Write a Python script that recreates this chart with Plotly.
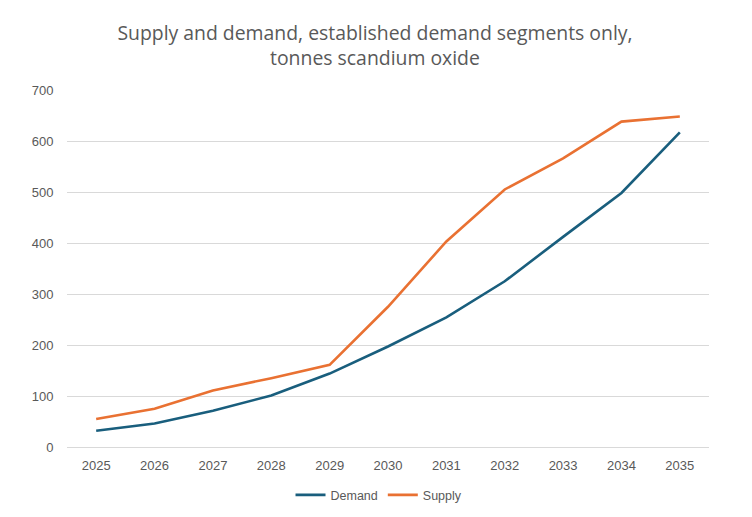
"""
Supply and demand chart, established demand segments only (tonnes Sc2O3).
"""

import plotly.graph_objects as go

# Data
YEARS = ["2025", "2026", "2027", "2028", "2029", "2030",
         "2031", "2032", "2033", "2034", "2035"]
DEMAND = [32, 46, 71, 101, 144, 197, 254, 325, 412, 498, 617]
SUPPLY = [55, 75, 111, 135, 161, 275, 403, 505, 566, 638, 648]

DEMAND_COLOR = "#195E7D"
SUPPLY_COLOR = "#E97132"
TEXT_COLOR = "#595959"
GRID_COLOR = "#D9D9D9"

fig = go.Figure()

fig.add_trace(
    go.Scatter(
        x=YEARS,
        y=DEMAND,
        name="Demand",
        mode="lines",
        line={"color": DEMAND_COLOR, "width": 2.6},
    )
)
fig.add_trace(
    go.Scatter(
        x=YEARS,
        y=SUPPLY,
        name="Supply",
        mode="lines",
        line={"color": SUPPLY_COLOR, "width": 2.6},
    )
)

fig.update_layout(
    width=752,
    height=517,
    title={
        "text": "Supply and demand, established demand segments only,<br>tonnes scandium oxide",
        "x": 0.488,
        "xanchor": "center",
        "y": 0.939,
        "yanchor": "top",
        "font": {"family": "Open Sans, sans-serif", "size": 19.4, "color": TEXT_COLOR},
    },
    plot_bgcolor="white",
    paper_bgcolor="white",
    font={"family": "Liberation Sans, Arial, sans-serif", "size": 13, "color": TEXT_COLOR},
    margin={"t": 82, "b": 78, "l": 59, "r": 51},
    showlegend=True,
    legend={
        "orientation": "h",
        "x": 0.486,
        "xanchor": "center",
        "y": -0.093,
        "yanchor": "top",
        "font": {"family": "Liberation Sans, Arial, sans-serif", "size": 12.5,
                 "color": TEXT_COLOR},
        "itemwidth": 30,
    },
    xaxis={
        "type": "category",
        "range": [-0.5, len(YEARS) - 0.5],
        "showgrid": False,
        "showline": True,
        "linecolor": GRID_COLOR,
        "linewidth": 1,
        "ticks": "outside",
        "ticklen": 6,
        "tickcolor": "white",
        "tickfont": {"size": 13, "color": TEXT_COLOR},
    },
    yaxis={
        "range": [0, 700],
        "dtick": 100,
        "showgrid": True,
        "gridcolor": GRID_COLOR,
        "gridwidth": 1,
        "zeroline": False,
        "showline": False,
        "ticks": "outside",
        "ticklen": 10,
        "tickcolor": "white",
        "tickfont": {"size": 13, "color": TEXT_COLOR},
    },
)

fig.write_html("out.html")
